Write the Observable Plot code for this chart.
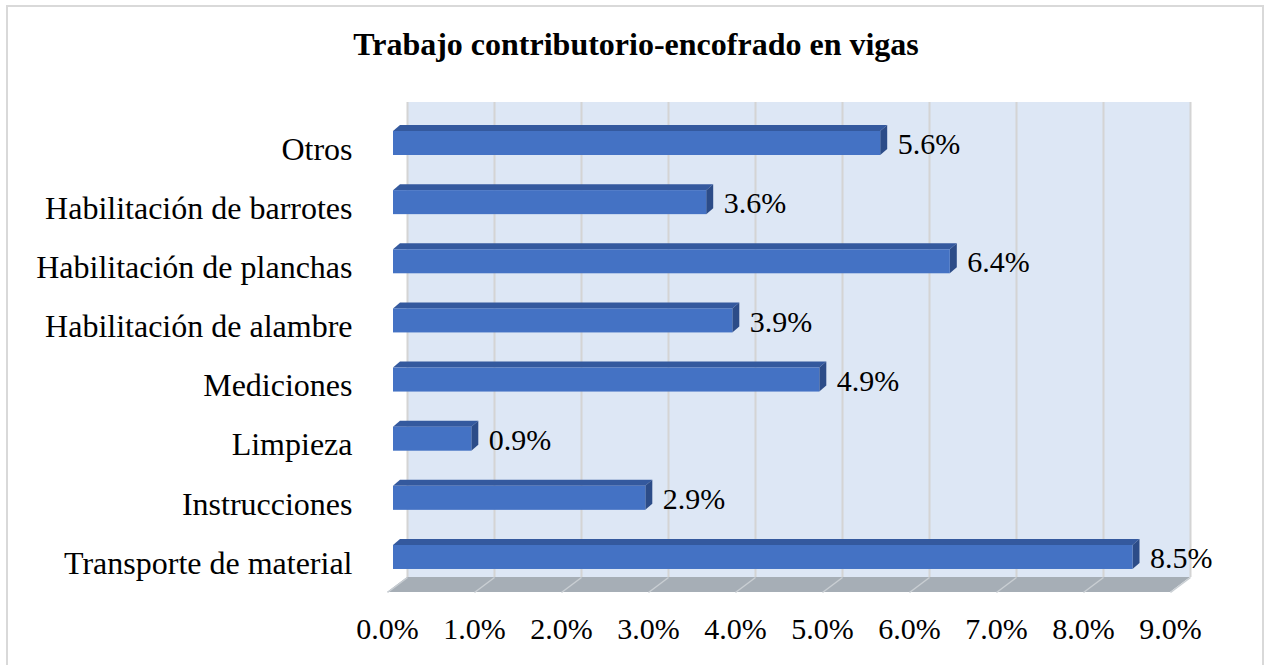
<!DOCTYPE html>
<html>
<head>
<meta charset="utf-8">
<script src="https://cdn.jsdelivr.net/npm/d3@7"></script>
<script src="https://cdn.jsdelivr.net/npm/@observablehq/plot@0.6"></script>
<style>
  html, body { margin: 0; padding: 0; background: #fff; overflow: hidden; }
  #wrap { position: relative; width: 1266px; height: 665px; color: #000; }
  #border { position: absolute; left: 6px; top: 5px; width: 1254px; height: 720px;
            border: 2px solid #d9d9d9; box-sizing: content-box; }
  #title { position: absolute; left: 0; width: 1272px; top: 28px; text-align: center;
           font: bold 32px/32px "Times New Roman", "Liberation Serif", serif; }
  #chart { position: absolute; left: 0; top: 0; }
  #chart svg { overflow: visible; }
</style>
</head>
<body>
<div id="wrap">
  <div id="border"></div>
  <div id="title">Trabajo contributorio-encofrado en vigas</div>
  <div id="chart"></div>
</div>
<script>
// ---- data ----
const categories = [
  "Otros",
  "Habilitación de barrotes",
  "Habilitación de planchas",
  "Habilitación de alambre",
  "Mediciones",
  "Limpieza",
  "Instrucciones",
  "Transporte de material"
];
const values = [5.6, 3.6, 6.4, 3.9, 4.9, 0.9, 2.9, 8.5];
const tickValues = [0, 1, 2, 3, 4, 5, 6, 7, 8, 9];
const tickLabels = ["0.0%", "1.0%", "2.0%", "3.0%", "4.0%", "5.0%", "6.0%", "7.0%", "8.0%", "9.0%"];
const valueLabels = ["5.6%", "3.6%", "6.4%", "3.9%", "4.9%", "0.9%", "2.9%", "8.5%"];

// ---- layout (pixels) ----
const W = 1266, H = 665;
const left = 393, right = 1176;       // x range of the bar front plane
const row0 = 143, rowStep = 59.14;    // center of first row, row spacing
const wallTop = 102, floorBack = 577, floorFront = 592;
const XPX = 9 / (right - left);       // data units per pixel (x)
const YPX = 1 / rowStep;              // data units per pixel (y)
const yDom = [(wallTop - row0) / rowStep, (floorFront - row0) / rowStep];

const wallDx = 14 * XPX, floorDx = -6 * XPX;
const yWallTop = yDom[0], yBack = (floorBack - row0) * YPX, yFront = yDom[1];
const bx = 7 * XPX, by = 6 * YPX, bh = 12 * YPX;

const rows = categories.map((c, i) => ({i, c, v: values[i], label: valueLabels[i]}));
const topFace = rows.flatMap(r => [
  {i: r.i, x: 0,        y1: r.i - bh,      y2: r.i - bh},
  {i: r.i, x: bx,       y1: r.i - bh,      y2: r.i - bh - by},
  {i: r.i, x: r.v,      y1: r.i - bh,      y2: r.i - bh - by},
  {i: r.i, x: r.v + bx, y1: r.i - bh - by, y2: r.i - bh - by}
]);
const sideFace = rows.flatMap(r => [
  {i: r.i, x: r.v,      y1: r.i + bh,      y2: r.i - bh},
  {i: r.i, x: r.v + bx, y1: r.i + bh - by, y2: r.i - bh - by}
]);
const floorPts = [
  {x: floorDx,     y1: yFront, y2: yFront},
  {x: wallDx,      y1: yFront, y2: yBack},
  {x: 9 + floorDx, y1: yFront, y2: yBack},
  {x: 9 + wallDx,  y1: yBack,  y2: yBack}
];

const serif = "'Times New Roman', 'Liberation Serif', serif";

const chart = Plot.plot({
  width: W,
  height: H,
  marginLeft: left,
  marginRight: W - right,
  marginTop: wallTop,
  marginBottom: H - floorFront,
  style: {fontFamily: serif, background: "transparent", color: "#000"},
  x: {domain: [0, 9], range: [left, right]},
  y: {domain: yDom, range: [wallTop, floorFront]},
  marks: [
    // back wall
    Plot.rect([0], {x1: wallDx, x2: 9 + wallDx, y1: yWallTop, y2: yBack, fill: "#dde7f5"}),
    Plot.ruleX(tickValues, {x: d => d + wallDx, y1: yWallTop, y2: yBack, stroke: "#d4d4d4", strokeWidth: 2}),
    // floor
    Plot.areaY(floorPts, {x: "x", y1: "y1", y2: "y2", fill: "#a6aeb6"}),
    Plot.link(tickValues, {x1: d => d + wallDx, y1: yBack, x2: d => d + floorDx, y2: yFront, stroke: "#c9ced3", strokeWidth: 1.5}),
    // bars
    Plot.areaY(topFace, {x: "x", y1: "y1", y2: "y2", z: "i", fill: "#34599e"}),
    Plot.areaY(sideFace, {x: "x", y1: "y1", y2: "y2", z: "i", fill: "#2c4c88"}),
    Plot.rect(rows, {x1: 0, x2: "v", y1: d => d.i - bh, y2: d => d.i + bh, fill: "#4472c4"}),
    // value labels
    Plot.text(rows, {x: "v", y: "i", text: "label", textAnchor: "start", dx: 17, dy: 1, fontSize: 30, fontFamily: serif, fill: "#000"}),
    // axes
    Plot.axisY(categories.map((c, i) => i), {
      anchor: "left", tickSize: 0, tickPadding: 41, dy: 6,
      tickFormat: i => categories[i], fontSize: 32, fontFamily: serif, fill: "#000"
    }),
    Plot.axisX(tickValues, {
      anchor: "bottom", tickSize: 0, tickPadding: 25, dx: -6,
      tickFormat: d => tickLabels[tickValues.indexOf(d)], fontSize: 30, fontFamily: serif, fill: "#000"
    })
  ]
});
document.getElementById("chart").appendChild(chart);
</script>
</body>
</html>
